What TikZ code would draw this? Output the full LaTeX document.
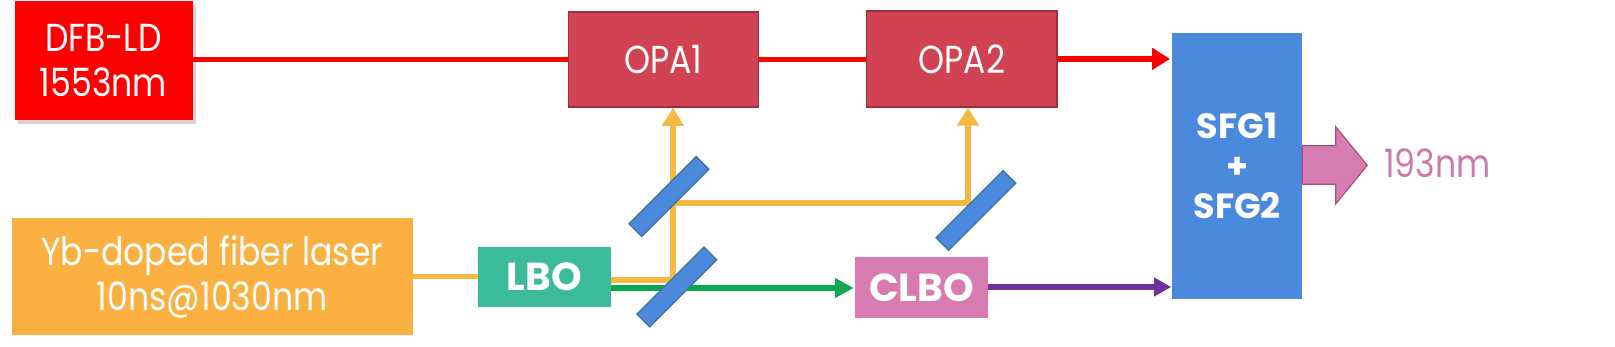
\documentclass[tikz,border=0pt]{standalone}
\usepackage{fontspec}
\setmainfont{Poppins}
\newfontfamily\regf{Poppins}[FakeStretch=0.85]
\usetikzlibrary{arrows.meta,shadows}
\definecolor{cdfb}{HTML}{FF0000}
\definecolor{copa}{HTML}{D14352}
\definecolor{copab}{HTML}{A02D3C}
\definecolor{cyb}{HTML}{FAB142}
\definecolor{corg}{HTML}{F4B942}
\definecolor{clbo}{HTML}{3CBB9C}
\definecolor{cgrn}{HTML}{0DA84E}
\definecolor{cclbo}{HTML}{D77CB0}
\definecolor{cpur}{HTML}{7030A0}
\definecolor{csfg}{HTML}{4A89DC}
\definecolor{cmirb}{HTML}{41719C}
\definecolor{carrb}{HTML}{A8507F}
\definecolor{ctxt}{HTML}{CC7AAA}
\begin{document}
\begin{tikzpicture}[x=1pt,y=-1pt,
  box/.style={rectangle,inner sep=0pt,text=white,align=center,font=\regf\fontsize{39}{45}\selectfont},
  boldbox/.style={rectangle,inner sep=0pt,text=white,align=center,font=\fontsize{39}{45}\selectfont\bfseries},
  mirror/.style={rectangle,inner sep=0pt,minimum width=95pt,minimum height=18pt,rotate=45,fill=csfg,draw=cmirb,line width=1.2pt},
  beam/.style={line width=5.5pt},
  tipA/.style={-{Triangle[length=18pt,width=21pt]}},
  tipG/.style={-{Triangle[length=19pt,width=19pt]}},
  tipP/.style={-{Triangle[length=17pt,width=18pt]}}
]
\useasboundingbox (0,0) rectangle (1615,346);
% boxes
\node[box,fill=cdfb,minimum width=178pt,minimum height=118.7pt,
  drop shadow={shadow xshift=3pt,shadow yshift=-4pt,opacity=0.35}] (dfb) at (103.5,60.5) {DFB-LD\\1553nm};
\node[box,fill=copa,draw=copab,line width=1.5pt,minimum width=190pt,minimum height=95pt] (opa1) at (663.5,59.5) {OPA1};
\node[box,fill=copa,draw=copab,line width=1.5pt,minimum width=190.5pt,minimum height=96pt] (opa2) at (961.75,58.9) {OPA2};
\node[box,fill=cyb,minimum width=400.5pt,minimum height=117.3pt] (yb) at (212.25,276.7) {Yb-doped fiber laser\\10ns@1030nm};
\node[boldbox,fill=clbo,minimum width=132.5pt,minimum height=59.4pt] (lbo) at (544.25,277) {LBO};
\node[boldbox,fill=cclbo,minimum width=133.2pt,minimum height=60.4pt] (clbo) at (921.6,287.5) {CLBO};
\node[boldbox,fill=csfg,minimum width=129.7pt,minimum height=265.7pt,font=\fontsize{35}{40}\selectfont\bfseries] (sfg) at (1237.15,165.85) {SFG1\\+\\SFG2};
\node[text=ctxt,inner sep=0pt,anchor=base,font=\regf\fontsize{39}{45}\selectfont] (out) at (1437.5,177.7) {193nm};
% coordinates
\coordinate (j1) at (673,280);
\coordinate (j2) at (673,203);
\coordinate (j3) at (968,203);
\coordinate (g1) at (0,288);
\coordinate (p1) at (0,287);
% red beam
\draw[beam,cdfb] (dfb.east |- opa1.west) -- (opa1.west);
\draw[beam,cdfb] (opa1.east) -- (opa1.east -| opa2.west);
\draw[beam,cdfb,tipA,shorten >=2pt] (opa2.east) -- (opa2.east -| sfg.west);
% orange beams
\draw[beam,corg] (yb.east) -- (yb.east -| lbo.west);
\draw[beam,corg,tipA] (j1 -| lbo.east) -- (j1) -- (j1 |- opa1.south);
\draw[beam,corg,tipA] (j2) -- (j3) -- (j3 |- opa2.south);
% green beam
\draw[beam,cgrn,tipG,shorten >=1pt] (lbo.east |- g1) -- (clbo.west |- g1);
% purple beam
\draw[beam,cpur,tipP,shorten >=1pt] (clbo.east |- p1) -- (sfg.west |- p1);
% mirrors
\node[mirror] (mA) at (669,196.5) {};
\node[mirror] (mB) at (676.8,287) {};
\node[mirror] (mC) at (975.9,210.5) {};
% output arrow
\coordinate (a1) at (0,145.7);
\coordinate (a2) at (0,184.3);
\draw[fill=cclbo,draw=carrb,line width=1.2pt] (sfg.east |- a1) -- (1335.7,145.7) -- (1335.7,126.7) -- (1367.3,165.3) -- (1335.7,204) -- (1335.7,184.3) -- (sfg.east |- a2) -- cycle;
\end{tikzpicture}
\end{document}
